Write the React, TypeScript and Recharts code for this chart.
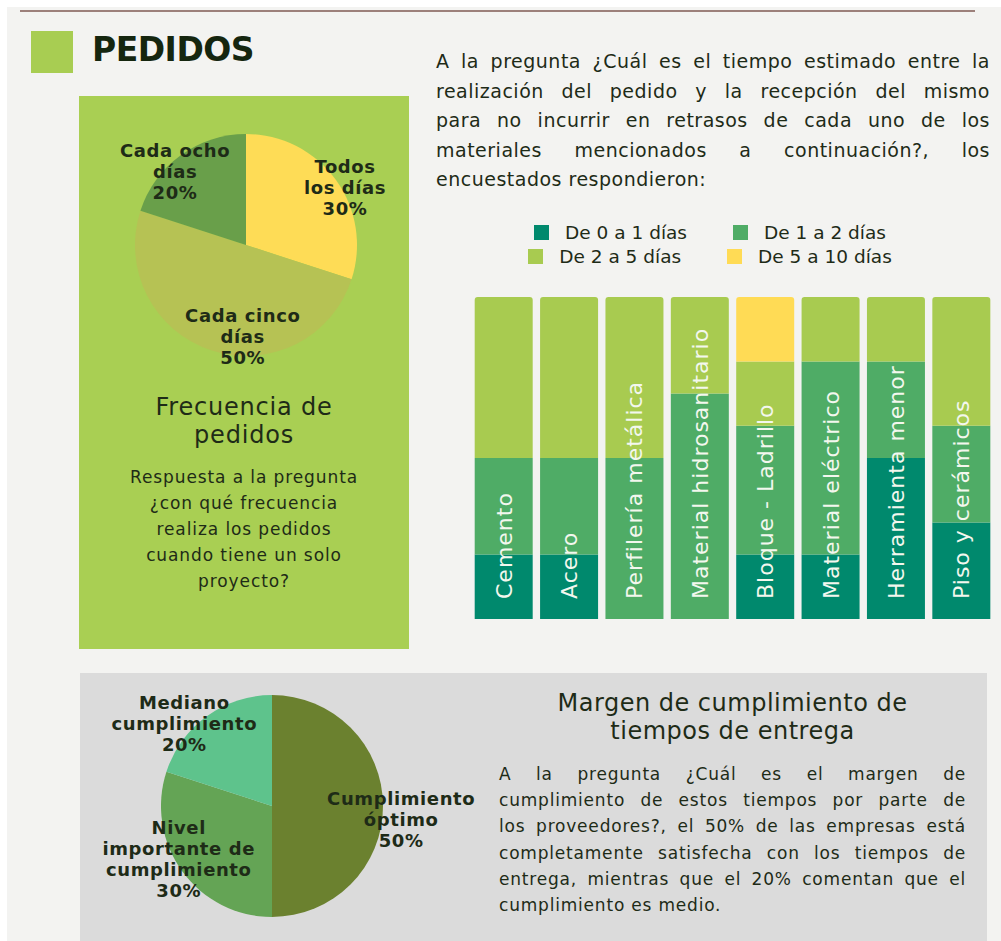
import React from "react";
import { BarChart, Bar, XAxis, YAxis, Legend, LabelList, PieChart, Pie, Cell, Rectangle } from "recharts";

const FONT = "'DejaVu Sans', sans-serif";
const INK = "#1e2b17";

// Frecuencia de pedidos
const frecuenciaNombres = ["Todos los días", "Cada cinco días", "Cada ocho días"];
const frecuenciaValores = [30, 50, 20];
const frecuenciaLineas = [["Todos", "los días"], ["Cada cinco", "días"], ["Cada ocho", "días"]];
const frecuenciaColores = ["#fedc56", "#b6c254", "#699f4a"];

// Tiempo estimado por material (% de encuestados)
const materiales = [
  "Cemento",
  "Acero",
  "Perfilería metálica",
  "Material hidrosanitario",
  "Bloque - Ladrillo",
  "Material eléctrico",
  "Herramienta menor",
  "Piso y cerámicos",
];
const de0a1 = [20, 20, 0, 0, 20, 20, 50, 30];
const de1a2 = [30, 30, 50, 70, 40, 60, 30, 30];
const de2a5 = [50, 50, 50, 30, 20, 20, 20, 40];
const de5a10 = [0, 0, 0, 0, 20, 0, 0, 0];
const rangos = ["De 0 a 1 días", "De 1 a 2 días", "De 2 a 5 días", "De 5 a 10 días"];
const rangoColores = ["#00896d", "#4fac66", "#a8cb50", "#ffdb55"];

// Margen de cumplimiento
const cumplimientoNombres = ["Cumplimiento óptimo", "Nivel importante de cumplimiento", "Mediano cumplimiento"];
const cumplimientoValores = [50, 30, 20];
const cumplimientoLineas = [["Cumplimiento", "óptimo"], ["Nivel", "importante de", "cumplimiento"], ["Mediano", "cumplimiento"]];
const cumplimientoColores = ["#6b812f", "#64a455", "#5ec38c"];

const preguntaTiempo = [
  "A la pregunta ¿Cuál es el tiempo estimado entre la",
  "realización del pedido y la recepción del mismo",
  "para no incurrir en retrasos de cada uno de los",
  "materiales mencionados a continuación?, los",
  "encuestados respondieron:",
];
const preguntaFrecuencia = [
  "Respuesta a la pregunta",
  "¿con qué frecuencia",
  "realiza los pedidos",
  "cuando tiene un solo",
  "proyecto?",
];
const preguntaMargen = [
  "A la pregunta  ¿Cuál es el margen de",
  "cumplimiento de estos tiempos por parte de",
  "los proveedores?, el 50% de las empresas está",
  "completamente satisfecha con los tiempos de",
  "entrega, mientras que el 20% comentan que el",
  "cumplimiento es medio.",
];

const frecuenciaData = frecuenciaNombres.map((name, i) => ({ name, value: frecuenciaValores[i] }));
const cumplimientoData = cumplimientoNombres.map((name, i) => ({ name, value: cumplimientoValores[i] }));
const keys = ["d01", "d12", "d25", "d510"];
const barData = materiales.map((material, i) => ({
  material,
  d01: de0a1[i],
  d12: de1a2[i],
  d25: de2a5[i],
  d510: de5a10[i],
}));

const RAD = Math.PI / 180;
const NO_MARGIN = { top: 0, right: 0, bottom: 0, left: 0 };

// label block centre given as (radius factor, angle in degrees) per slice
function pieLabel(lines: string[][], place: { k: number; a: number }[]) {
  return (props: any) => {
    const { cx, cy, outerRadius, index, value } = props;
    const p = place[index];
    const x = cx + outerRadius * p.k * Math.cos(-p.a * RAD);
    const y = cy + outerRadius * p.k * Math.sin(-p.a * RAD);
    const all = [...lines[index], `${value}%`];
    const lh = 21;
    const y0 = y - ((all.length - 1) * lh) / 2 + 6;
    return (
      <text
        textAnchor="middle"
        fill={INK}
        fontFamily={FONT}
        fontWeight="bold"
        fontSize={18}
        letterSpacing={0.6}
      >
        {all.map((l, i) => (
          <tspan key={i} x={x} y={y0 + i * lh}>
            {l}
          </tspan>
        ))}
      </text>
    );
  };
}

const topShape = (key: string) => (props: any) => {
  const p = props.payload || {};
  const idx = keys.indexOf(key);
  const isTop = keys.slice(idx + 1).every((k) => !p[k]);
  return (
    <Rectangle
      x={props.x}
      y={props.y}
      width={props.width}
      height={props.height}
      fill={props.fill}
      radius={isTop ? [3, 3, 0, 0] : 0}
    />
  );
};

// material name written upward from the foot of each bar
const renderBarName = (props: any) => {
  const { x, y, width, height, value } = props;
  const cx = Number(x) + Number(width) / 2;
  const bottom = Number(y) + Number(height);
  return (
    <text
      transform={`translate(${cx + 8}, ${bottom - 20}) rotate(-90)`}
      fill="#f3f7ee"
      fontFamily={FONT}
      fontSize={22}
      letterSpacing={1}
      textAnchor="start"
    >
      {value}
    </text>
  );
};

const renderLegend = (props: any) => {
  const items = props.payload || [];
  const rows = [items.slice(0, 2), items.slice(2, 4)];
  return (
    <div style={{ fontFamily: FONT, fontSize: 18.5, color: INK }}>
      {rows.map((row: any[], r: number) => (
        <div
          key={r}
          style={{ display: "flex", justifyContent: "center", alignItems: "center", gap: 46, height: 24, paddingRight: 45 }}
        >
          {row.map((it: any) => (
            <div key={it.value} style={{ display: "flex", alignItems: "center" }}>
              <span style={{ display: "inline-block", width: 15, height: 15, background: it.color, marginRight: 16 }} />
              {it.value}
            </div>
          ))}
        </div>
      ))}
    </div>
  );
};

function Lines({ lines, left, top, width, size, lh, spacing, justify, center }: any) {
  return (
    <div style={{ position: "absolute", left, top, width, fontSize: size, lineHeight: `${lh}px`, letterSpacing: spacing }}>
      {lines.map((l: string, i: number) => {
        const last = i === lines.length - 1;
        return (
          <div
            key={i}
            style={{
              whiteSpace: "nowrap",
              textAlign: center ? "center" : justify && !last ? "justify" : "left",
              textAlignLast: center ? "center" : justify && !last ? "justify" : "left",
            }}
          >
            {l}
          </div>
        );
      })}
    </div>
  );
}

export default function App() {
  return (
    <div
      style={{
        position: "absolute",
        left: 0,
        top: 0,
        width: 1001,
        height: 941,
        background: "#ffffff",
        overflow: "hidden",
        fontFamily: FONT,
        color: INK,
      }}
    >
      <div style={{ position: "absolute", left: 7, top: 7, width: 994, height: 934, background: "#f3f3f1" }} />
      <div style={{ position: "absolute", left: 20, top: 10, width: 955, height: 2, background: "#9c807b" }} />

      {/* header */}
      <div style={{ position: "absolute", left: 31, top: 31, width: 42, height: 42, background: "#a8cd52" }} />
      <div
        style={{
          position: "absolute",
          left: 92,
          top: 30,
          fontSize: 33,
          fontWeight: "bold",
          letterSpacing: -0.5,
          lineHeight: "40px",
          color: "#15260f",
        }}
      >
        PEDIDOS
      </div>

      {/* green panel with pie */}
      <div style={{ position: "absolute", left: 79, top: 96, width: 330, height: 553, background: "#a9cf53" }} />
      <div style={{ position: "absolute", left: 79, top: 96 }}>
        <PieChart width={330} height={290} margin={NO_MARGIN}>
          <Pie
            data={frecuenciaData}
            dataKey="value"
            nameKey="name"
            cx={167}
            cy={149}
            outerRadius={111}
            startAngle={90}
            endAngle={-270}
            stroke="none"
            labelLine={false}
            label={pieLabel(frecuenciaLineas, [
              { k: 1.03, a: 30 },
              { k: 0.83, a: -92 },
              { k: 0.92, a: 134 },
            ])}
            isAnimationActive={false}
          >
            {frecuenciaData.map((d, i) => (
              <Cell key={d.name} fill={frecuenciaColores[i]} />
            ))}
          </Pie>
        </PieChart>
      </div>
      <Lines lines={["Frecuencia de", "pedidos"]} left={79} top={393} width={330} size={24} lh={28} spacing={0.8} center />
      <Lines lines={preguntaFrecuencia} left={79} top={464} width={330} size={17} lh={26} spacing={0.9} center />

      {/* question text */}
      <Lines lines={preguntaTiempo} left={436} top={47} width={554} size={19} lh={29.5} spacing={0.5} justify />

      {/* stacked bars */}
      <div style={{ position: "absolute", left: 471, top: 210 }}>
        <BarChart
          width={523}
          height={409}
          data={barData}
          margin={{ top: 87, right: 0, bottom: 0, left: 0 }}
          barCategoryGap={3.7}
        >
          <XAxis dataKey="material" hide />
          <YAxis hide domain={[0, 100]} />
          <Legend
            layout="vertical"
            align="center"
            verticalAlign="middle"
            content={renderLegend}
            wrapperStyle={{ top: 10, left: 0, width: 523 }}
          />
          {keys.map((k, i) => (
            <Bar
              key={k}
              dataKey={k}
              name={rangos[i]}
              stackId="t"
              fill={rangoColores[i]}
              shape={topShape(k)}
              isAnimationActive={false}
            >
              {i === 0 && <LabelList dataKey="material" content={renderBarName} />}
            </Bar>
          ))}
        </BarChart>
      </div>

      {/* bottom grey panel */}
      <div style={{ position: "absolute", left: 80, top: 673, width: 907, height: 268, background: "#dbdbdb" }} />
      <div style={{ position: "absolute", left: 80, top: 673 }}>
        <PieChart width={420} height={268} margin={NO_MARGIN}>
          <Pie
            data={cumplimientoData}
            dataKey="value"
            nameKey="name"
            cx={192}
            cy={133}
            outerRadius={111}
            startAngle={90}
            endAngle={-270}
            stroke="none"
            labelLine={false}
            label={pieLabel(cumplimientoLineas, [
              { k: 1.17, a: -6 },
              { k: 0.97, a: 210 },
              { k: 1.08, a: 137 },
            ])}
            isAnimationActive={false}
          >
            {cumplimientoData.map((d, i) => (
              <Cell key={d.name} fill={cumplimientoColores[i]} />
            ))}
          </Pie>
        </PieChart>
      </div>
      <Lines
        lines={["Margen de cumplimiento de", "tiempos de entrega"]}
        left={499}
        top={689}
        width={467}
        size={24}
        lh={28}
        spacing={0.5}
        center
      />
      <Lines lines={preguntaMargen} left={499} top={761} width={467} size={17} lh={26.2} spacing={0.8} justify />
    </div>
  );
}
